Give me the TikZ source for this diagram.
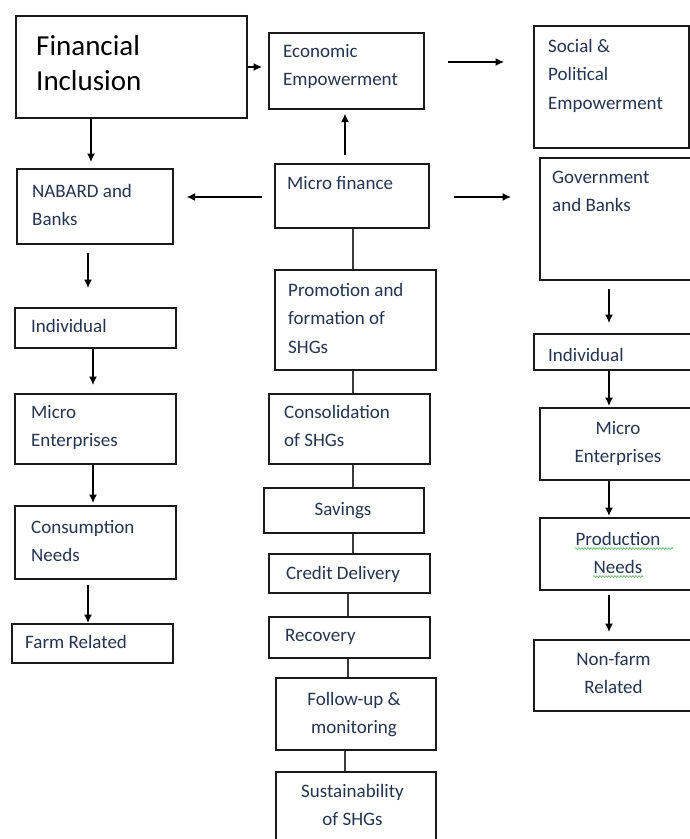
\documentclass[tikz,border=0pt]{standalone}
\usepackage{fontspec}
\setmainfont{Carlito}
\usetikzlibrary{arrows.meta,decorations.pathmorphing}
\definecolor{txt}{HTML}{263450}
\definecolor{edge}{HTML}{1A1A1A}
\definecolor{conn}{HTML}{3A3A3A}
\definecolor{squig}{HTML}{5DB85C}
\begin{document}
\begin{tikzpicture}[x=1pt,y=-1pt,
  box/.style={draw=edge,line width=1.6pt,inner sep=0pt,anchor=north west},
  lbl/.style={text=txt,font=\fontsize{19}{28.5}\selectfont,inner sep=0pt,
    execute at begin node=\strut,execute at end node=\strut},
  lblL/.style={lbl,align=left,anchor=north west},
  lblC/.style={lbl,align=center,anchor=north},
  arr/.style={draw=black,line width=1.4pt,-{Latex[length=8.5pt,width=8pt]}},
  link/.style={draw=conn,line width=1.6pt}]
\useasboundingbox (0,0) rectangle (690,839);
\clip (0,0) rectangle (690,839);
\fill[white] (0,0) rectangle (690,839);

% ---- boxes ----
\node[box,minimum width=231pt,minimum height=102pt] (fin) at (15,15) {};
\node[box,minimum width=155pt,minimum height=76pt]  (eco) at (268,32) {};
\node[box,minimum width=155pt,minimum height=122pt] (soc) at (533,25) {};
\node[box,minimum width=156pt,minimum height=75pt]  (nab) at (16,168) {};
\node[box,minimum width=154pt,minimum height=64pt]  (mf)  at (274,163) {};
\node[box,minimum width=160pt,minimum height=122pt] (gov) at (539,157) {};
\node[box,minimum width=161pt,minimum height=40pt]  (indL) at (14,307) {};
\node[box,minimum width=161pt,minimum height=70pt]  (meL)  at (14,393) {};
\node[box,minimum width=161pt,minimum height=73pt]  (conL) at (14,505) {};
\node[box,minimum width=161pt,minimum height=39pt]  (farm) at (11,623) {};
\node[box,minimum width=161pt,minimum height=100pt] (prom) at (274,269) {};
\node[box,minimum width=161pt,minimum height=70pt]  (cons) at (268,393) {};
\node[box,minimum width=160pt,minimum height=45pt]  (sav)  at (263,487) {};
\node[box,minimum width=161pt,minimum height=39pt]  (cred) at (268,553) {};
\node[box,minimum width=161pt,minimum height=41pt]  (rec)  at (268,616) {};
\node[box,minimum width=160pt,minimum height=72pt]  (fol)  at (275,677) {};
\node[box,minimum width=160pt,minimum height=80pt]  (sus)  at (275,771) {};
\node[box,minimum width=166pt,minimum height=36pt]  (indR) at (533,333) {};
\node[box,minimum width=160pt,minimum height=72pt]  (meR)  at (539,407) {};
\node[box,minimum width=160pt,minimum height=72pt]  (prodR) at (539,517) {};
\node[box,minimum width=166pt,minimum height=71pt]  (nonR) at (533,639) {};

% ---- texts ----
\node[inner sep=0pt,anchor=north west,align=left,text=black,
  font=\fontsize{29}{35.5}\selectfont] (tfin) at (36,30) {\strut Financial\\Inclusion};
\node[lblL] (teco) at (283,37) {\strut Economic\\Empowerment};
\node[lblL] (tsoc) at (548,32) {\strut Social \&\\Political\\Empowerment};
\node[lblL] (tnab) at (32,177) {\strut NABARD and\\Banks};
\node[lblL] (tmf) at (287,169) {Micro finance};
\node[lblL] (tgov) at (552,163) {\strut Government\\and Banks};
\node[lblL] (tindL) at (31,312) {Individual};
\node[lblL] (tmeL) at (31,398) {\strut Micro\\Enterprises};
\node[lblL] (tconL) at (31,513) {\strut Consumption\\Needs};
\node[lblL] (tfarm) at (25,628) {Farm Related};
\node[lblL] (tprom) at (288,276) {\strut Promotion and\\formation of\\SHGs};
\node[lblL] (tcons) at (284,398) {\strut Consolidation\\of SHGs};
\node[lblC] (tsav) at (343,495) {Savings};
\node[lblC] (tcred) at (343,559) {Credit Delivery};
\node[lblL] (trec) at (285,621) {Recovery};
\node[lblC] (tfol) at (354,685) {\strut Follow-up \&\\monitoring};
\node[lblC] (tsus) at (352.5,777) {\strut Sustainability\\of SHGs};
\node[lblL] (tindR) at (548,341) {Individual};
\node[lblC] (tmeR) at (618,414) {\strut Micro\\Enterprises};
\node[lblC] (tprod) at (618,525) {\strut Production\\Needs};
\node[lblC] (tnon) at (613.5,645) {\strut Non-farm\\Related};

% spell-check squiggles
\draw[squig,line width=0.6pt,decorate,decoration={snake,amplitude=0.9pt,segment length=3pt}]
  (575,548.5) -- (673,548.5);
\draw[squig,line width=0.6pt,decorate,decoration={snake,amplitude=0.9pt,segment length=3pt}]
  (593,576.5) -- (643,576.5);

% ---- helper x positions ----
\coordinate (xF) at (91,0);
\coordinate (xM) at (345,0);
\coordinate (xL1) at (88,0);
\coordinate (xL2) at (93,0);
\coordinate (xR) at (609,0);
\coordinate (xC1) at (353,0);
\coordinate (xC2) at (348,0);
\coordinate (xC3) at (345,0);
\coordinate (yE) at (0,62);
\coordinate (yM) at (0,197);
\coordinate (yF) at (0,67);

% ---- arrows ----
\draw[arr,shorten >=6pt] (fin.east |- yF) -- (eco.west |- yF);
\draw[arr,shorten >=6pt] (fin.south -| xF) -- (nab.north -| xF);
\draw[arr,shorten <=8pt,shorten >=4pt] (mf.north -| xM) -- (eco.south -| xM);
\draw[arr,shorten <=23pt,shorten >=29pt] (eco.east |- yE) -- (soc.west |- yE);
\draw[arr,shorten <=12pt,shorten >=13pt] (mf.west |- yM) -- (nab.east |- yM);
\draw[arr,shorten <=24pt,shorten >=28pt] (mf.east |- yM) -- (gov.west |- yM);
\draw[arr,shorten <=8pt,shorten >=10pt] (gov.south -| xR) -- (indR.north -| xR);
\draw[arr,shorten >=1pt] (indR.south -| xR) -- (meR.north -| xR);
\draw[arr,shorten >=1pt] (meR.south -| xR) -- (prodR.north -| xR);
\draw[arr,shorten <=4pt,shorten >=7pt] (prodR.south -| xR) -- (nonR.north -| xR);
\draw[arr,shorten <=8pt,shorten >=19pt] (nab.south -| xL1) -- (indL.north -| xL1);
\draw[arr,shorten >=8pt] (indL.south -| xL2) -- (meL.north -| xL2);
\draw[arr,shorten >=2pt] (meL.south -| xL2) -- (conL.north -| xL2);
\draw[arr,shorten <=5pt] (conL.south -| xL1) -- (farm.north -| xL1);

% ---- middle column links ----
\draw[link] (mf.south -| xC1) -- (prom.north -| xC1);
\draw[link] (prom.south -| xC1) -- (cons.north -| xC1);
\draw[link] (cons.south -| xC1) -- (sav.north -| xC1);
\draw[link] (sav.south -| xC1) -- (cred.north -| xC1);
\draw[link] (cred.south -| xC2) -- (rec.north -| xC2);
\draw[link] (rec.south -| xC2) -- (fol.north -| xC2);
\draw[link] (fol.south -| xC3) -- (sus.north -| xC3);
\end{tikzpicture}
\end{document}
